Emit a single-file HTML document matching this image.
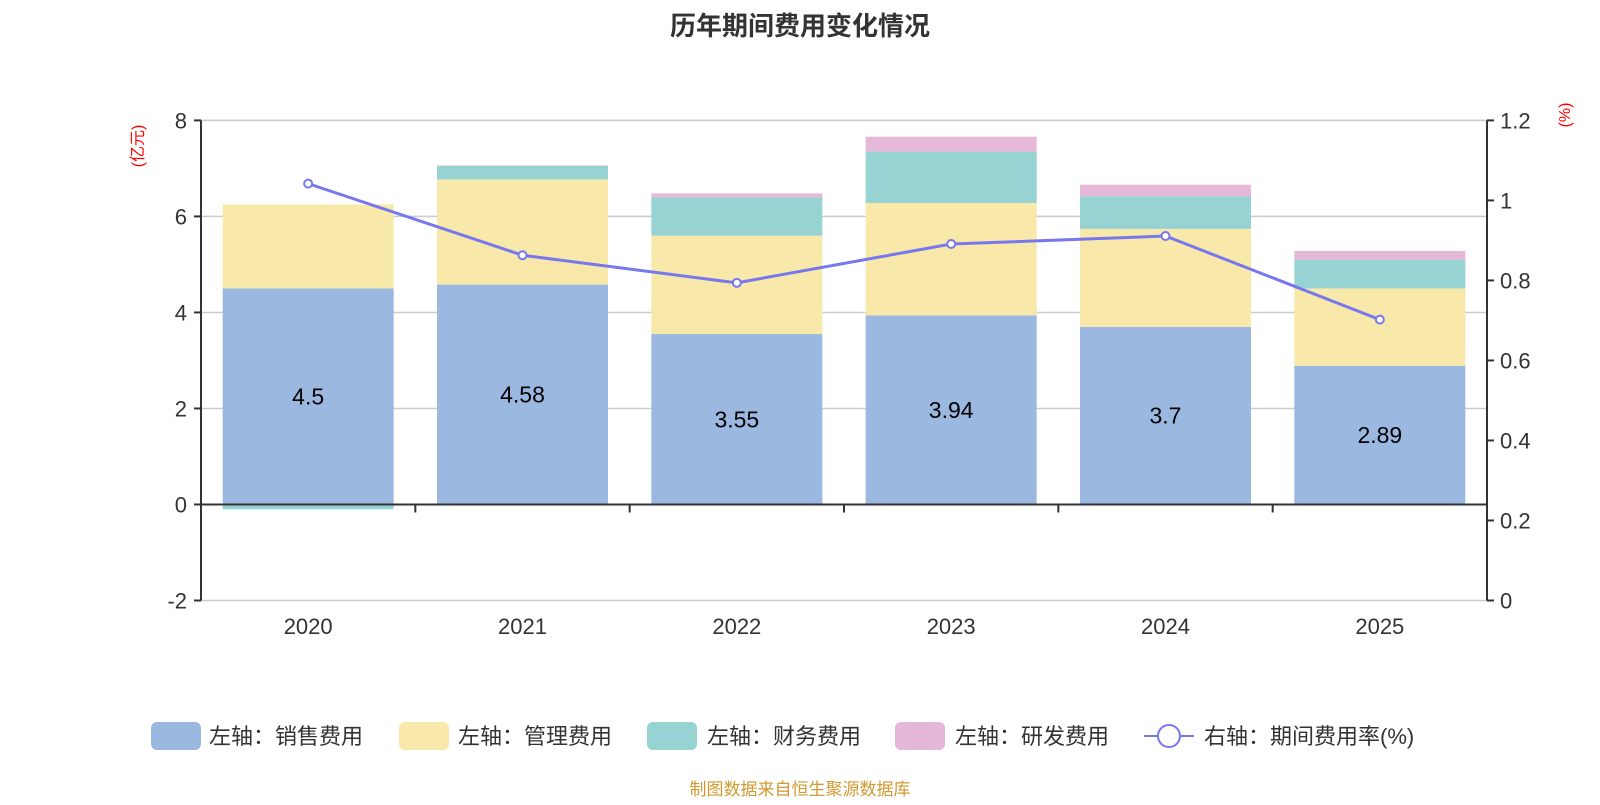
<!DOCTYPE html>
<html><head><meta charset="utf-8">
<style>
body{margin:0;background:#fff;}
svg text{font-family:"Liberation Sans","Noto Sans CJK SC",sans-serif;}
</style></head>
<body>
<svg id="chart" width="1600" height="800" xmlns="http://www.w3.org/2000/svg">
<text x="800" y="35" text-anchor="middle" font-size="26" font-weight="bold" fill="#333">历年期间费用变化情况</text>
<text transform="translate(143,146) rotate(-90)" text-anchor="middle" font-size="16" fill="#f00">(亿元)</text>
<text transform="translate(1570,115) rotate(-90)" text-anchor="middle" font-size="16" fill="#f00">(%)</text>
<g id="grid"></g><g id="bars"></g><g id="axes"></g><g id="line"></g>
<g id="legend">
<rect x="151" y="722" width="50" height="28" rx="6" fill="#9bb8e1"/>
<text x="209" y="744" font-size="22" fill="#333">左轴：销售费用</text>
<rect x="399" y="722" width="50" height="28" rx="6" fill="#f8e8aa"/>
<text x="458" y="744" font-size="22" fill="#333">左轴：管理费用</text>
<rect x="647" y="722" width="50" height="28" rx="6" fill="#97d3d3"/>
<text x="707" y="744" font-size="22" fill="#333">左轴：财务费用</text>
<rect x="895" y="722" width="50" height="28" rx="6" fill="#e6b8d8"/>
<text x="955" y="744" font-size="22" fill="#333">左轴：研发费用</text>
<line x1="1144" y1="736" x2="1194" y2="736" stroke="#7777ee" stroke-width="2"/>
<circle cx="1169" cy="736" r="11" fill="#fff" stroke="#7777ee" stroke-width="2"/>
<text x="1204" y="744" font-size="22" fill="#333">右轴：期间费用率(%)</text>
</g>
<text x="800" y="795" text-anchor="middle" font-size="17" fill="#d09a30">制图数据来自恒生聚源数据库</text>
</svg>
<script>
const categories=["2020","2021","2022","2023","2024","2025"];
const sales=[4.5,4.58,3.55,3.94,3.7,2.89];
const admin=[1.75,2.19,2.05,2.34,2.04,1.61];
const finance=[-0.1,0.28,0.8,1.07,0.68,0.6];
const rd=[0,0.01,0.08,0.31,0.24,0.18];
const rate=[1.042,0.863,0.794,0.891,0.911,0.702];
const leftTicks=[-2,0,2,4,6,8];
const rightTicks=[0,0.2,0.4,0.6,0.8,1,1.2];

const NS="http://www.w3.org/2000/svg";
const X0=201,X1=1487,YT=120.4,YB=600.5;
const yL=v=>YB-(v+2)/10*(YB-YT);
const yR=v=>YB-v/1.2*(YB-YT);
const band=(X1-X0)/categories.length;
const xC=i=>X0+band*(i+0.5);
function mk(tag,attrs,parent){const e=document.createElementNS(NS,tag);for(const k in attrs)e.setAttribute(k,attrs[k]);document.getElementById(parent).appendChild(e);return e;}
leftTicks.forEach(t=>{
  const g=mk('line',{x1:X0,x2:X1,y1:yL(t),y2:yL(t),stroke:'#ccc','stroke-width':1.5},'grid');
  
  
  const tk=mk('line',{x1:X0-7,x2:X0,y1:yL(t),y2:yL(t),stroke:'#333','stroke-width':2},'axes');
  
  
  const tx=mk('text',{x:X0-14,y:yL(t)+8,'text-anchor':'end','font-size':22,fill:'#333'},'axes');
  tx.textContent=t;
  
  
});
rightTicks.forEach(t=>{
  const tk=mk('line',{x1:X1,x2:X1+7,y1:yR(t),y2:yR(t),stroke:'#333','stroke-width':2},'axes');
  
  
  const tx=mk('text',{x:X1+13,y:yR(t)+8,'font-size':22,fill:'#333'},'axes');
  tx.textContent=t;
  
  
});
const series=[[sales,'#9bb8e1','bar-sales'],[admin,'#f8e8aa','bar-admin'],[finance,'#97d3d3','bar-finance'],[rd,'#e6b8d8','bar-rd']];
const bw=171;
categories.forEach((c,i)=>{
  let pos=0,neg=0;
  series.forEach(([arr,col,name])=>{
    const v=arr[i];if(!v)return;
    let a,b;
    if(v>=0){a=pos;b=pos+v;pos=b;}else{a=neg;b=neg+v;neg=b;}
    const y1=yL(Math.max(a,b)),y2=yL(Math.min(a,b));
    const r=mk('rect',{x:xC(i)-bw/2,y:y1,width:bw,height:y2-y1,fill:col},'bars');
    
    
  });
  const lbl=mk('text',{x:xC(i),y:yL(sales[i]/2)+8,'text-anchor':'middle','font-size':23,fill:'#000'},'bars');
  lbl.textContent=sales[i];
  
  
  const xl=mk('text',{x:xC(i),y:634,'text-anchor':'middle','font-size':22,fill:'#333'},'axes');
  xl.textContent=c;
  
  
  if(i>0){const tk=mk('line',{x1:X0+band*i,x2:X0+band*i,y1:yL(0),y2:yL(0)+8,stroke:'#333','stroke-width':2},'axes');
  
  }
});
const la=mk('line',{x1:X0,x2:X0,y1:YT,y2:YB,stroke:'#333','stroke-width':2},'axes');


const ra=mk('line',{x1:X1,x2:X1,y1:YT,y2:YB,stroke:'#333','stroke-width':2},'axes');


const xa=mk('line',{x1:X0,x2:X1,y1:yL(0),y2:yL(0),stroke:'#333','stroke-width':2},'axes');


const pl=mk('polyline',{points:rate.map((v,i)=>xC(i)+','+yR(v)).join(' '),fill:'none',stroke:'#7777ee','stroke-width':3},'line');


rate.forEach((v,i)=>{
  const c=mk('circle',{cx:xC(i),cy:yR(v),r:4,fill:'#fff',stroke:'#7777ee','stroke-width':2},'line');
  
  
});
</script>
</body></html>
